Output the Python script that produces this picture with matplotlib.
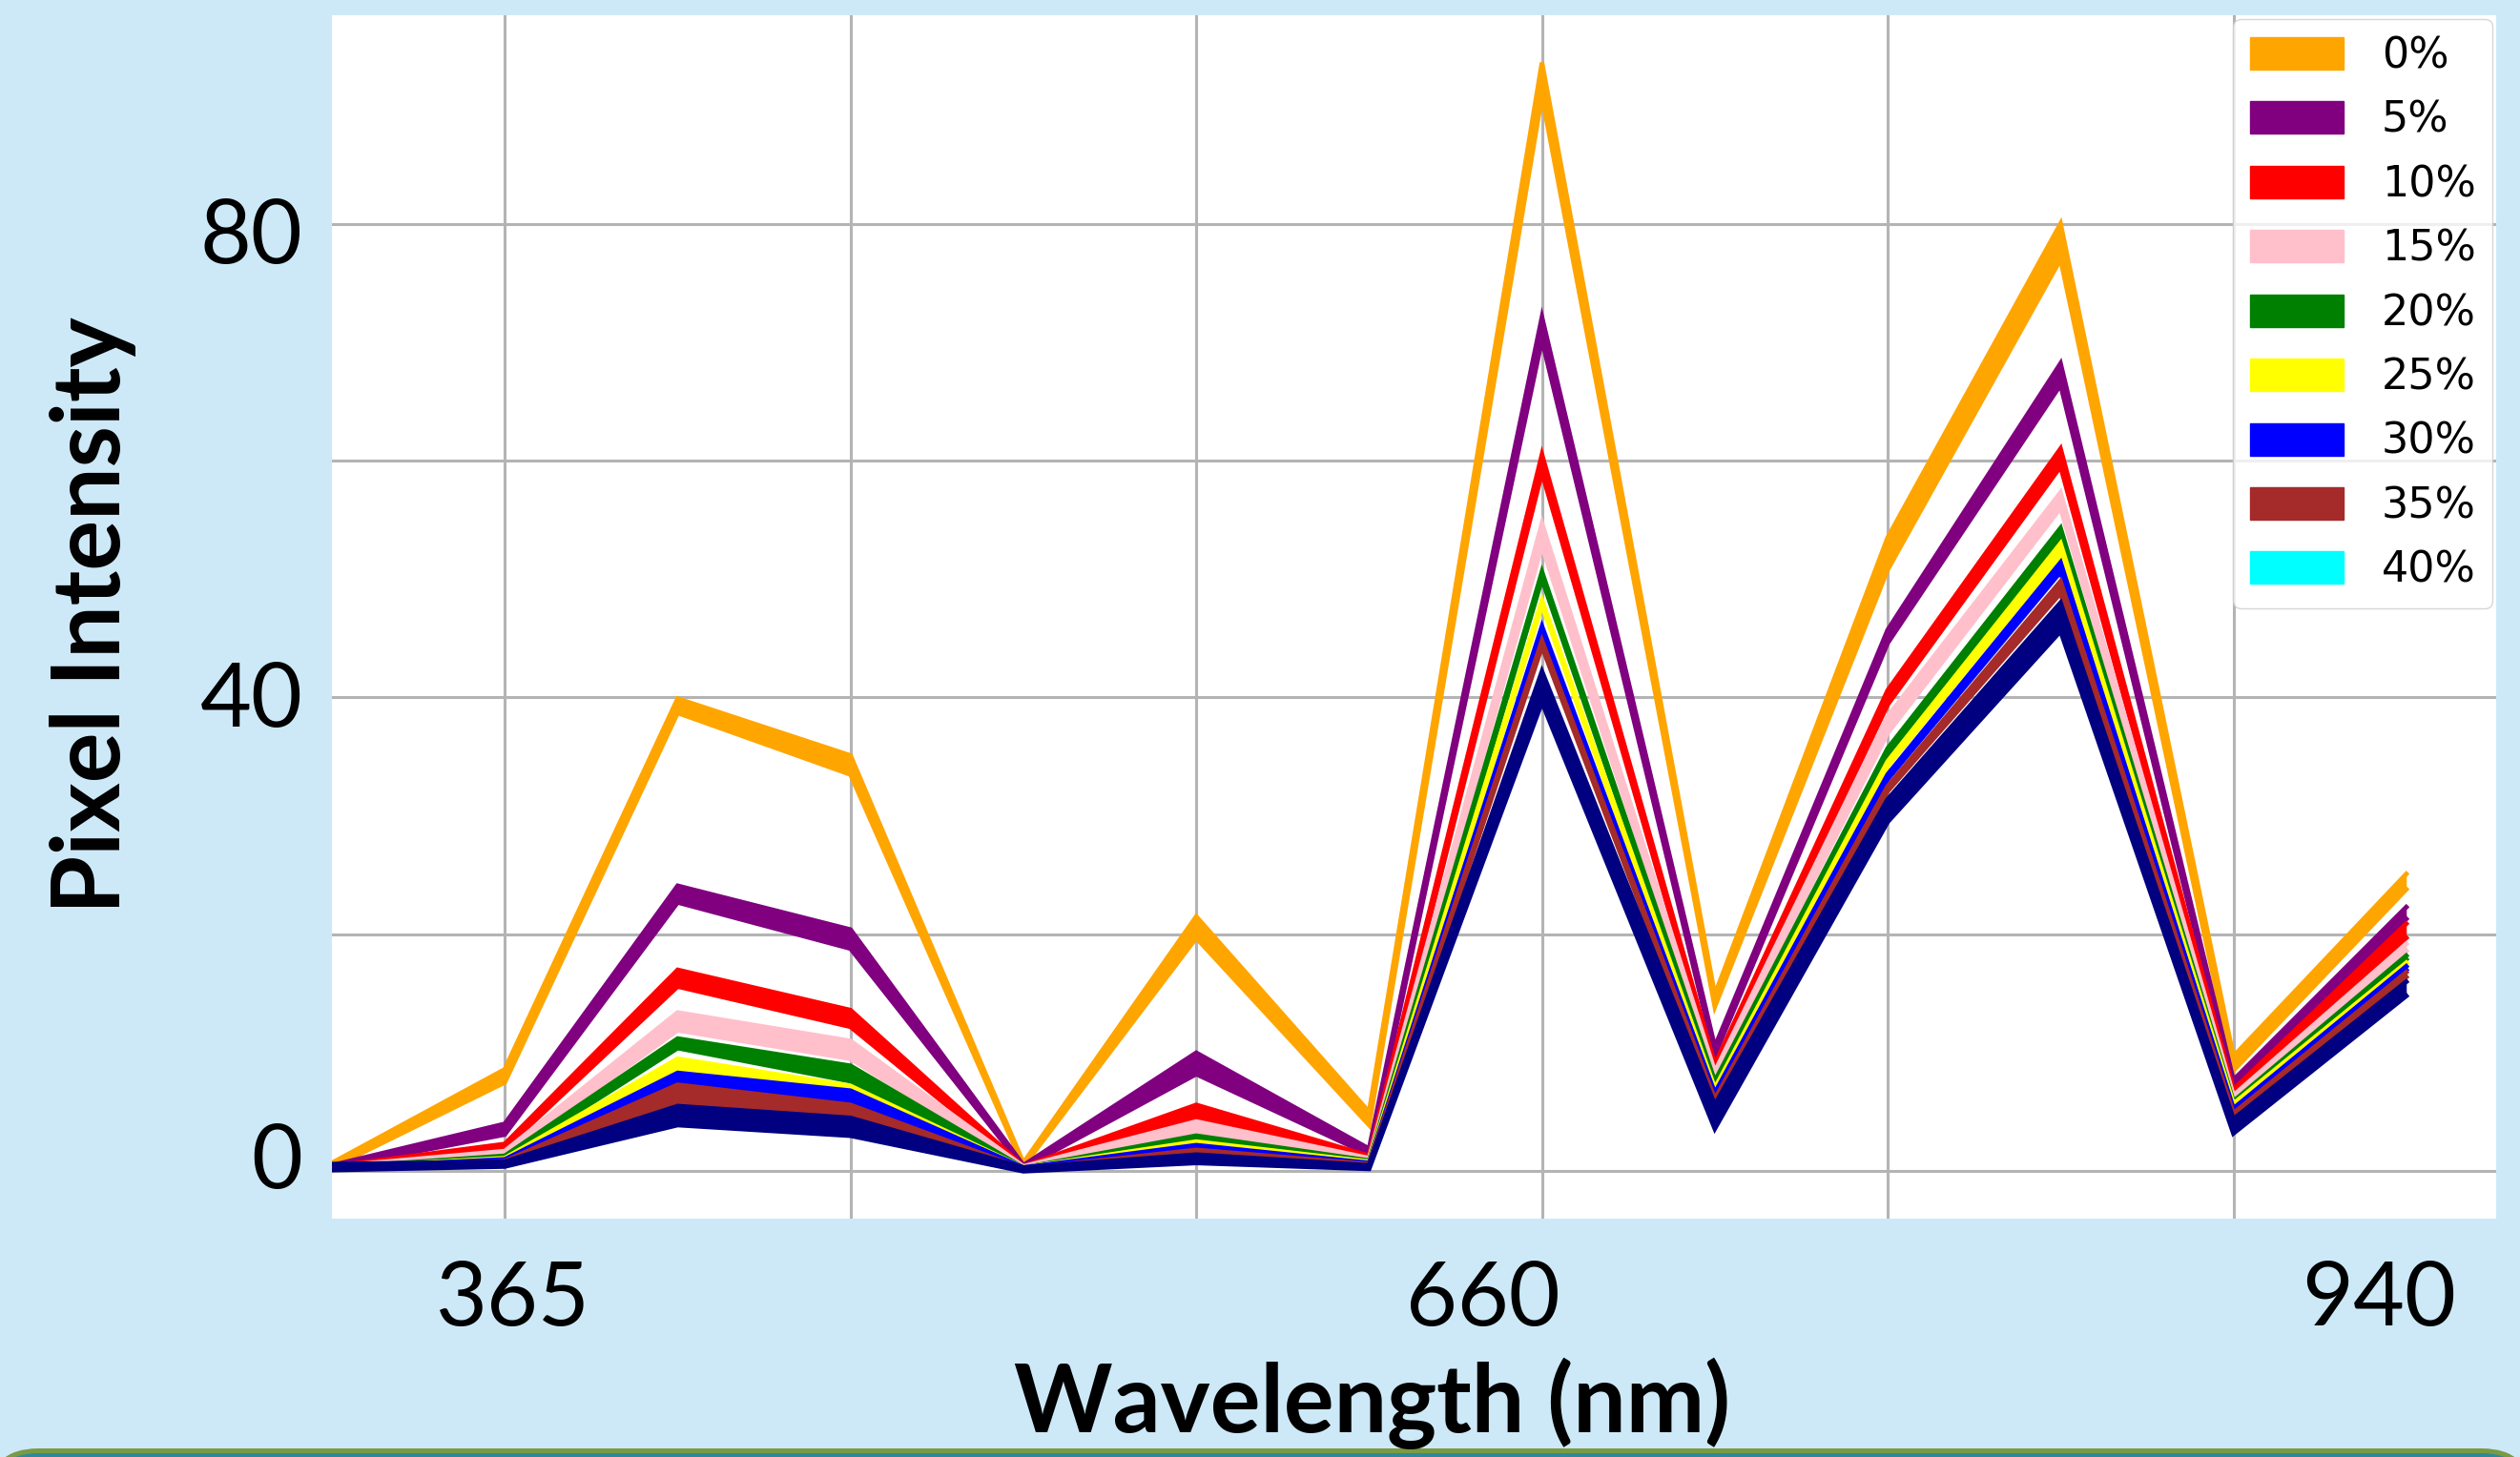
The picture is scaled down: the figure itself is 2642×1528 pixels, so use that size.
import matplotlib
matplotlib.use("Agg")
import matplotlib.pyplot as plt
import matplotlib.patches as mpatches

# ---------------- data ----------------
x_idx = list(range(13))                      # 13 measured channels
x_tick_pos = [1.04, 6.66, 11.84]
x_tick_labels = ["365", "660", "940"]
y_tick_pos = [1.3, 40.3, 79.4]
y_tick_labels = ["0", "40", "80"]
x_grid = [1, 3, 5, 7, 9, 11]
y_grid = [0, 20, 40, 60, 80]

conc_labels = ["0%", "5%", "10%", "15%", "20%", "25%", "30%", "35%", "40%"]
line_colors = ["orange", "purple", "red", "pink", "green", "yellow", "blue", "brown", "navy"]
legend_colors = ["orange", "purple", "red", "pink", "green", "yellow", "blue", "brown", "cyan"]

# lower / upper edge of each bundle of replicate spectra
c00_lo = [0.3, 7.5, 38.7, 33.5, 0.4, 19.7, 3.9, 90.8, 13.9, 50.8, 77.0, 8.5, 23.8]
c00_hi = [0.7, 8.6, 39.9, 35.1, 0.7, 21.5, 5.0, 93.6, 14.9, 53.5, 80.0, 9.7, 25.1]
c05_lo = [0.3, 3.1, 22.7, 18.8, 0.3, 8.2, 1.4, 70.2, 9.8, 44.6, 66.4, 7.1, 21.3]
c05_hi = [0.5, 4.0, 24.1, 20.4, 0.5, 10.0, 1.9, 72.1, 10.5, 45.7, 68.2, 7.7, 22.3]
c10_lo = [0.3, 1.9, 15.6, 12.2, 0.3, 4.5, 1.0, 59.0, 8.6, 39.4, 59.5, 6.5, 19.7]
c10_hi = [0.4, 2.3, 17.0, 13.6, 0.4, 5.6, 1.3, 60.5, 9.0, 40.6, 61.0, 6.9, 20.9]
c15_lo = [0.3, 1.4, 11.9, 9.5, 0.3, 3.2, 0.9, 52.8, 8.0, 37.0, 56.0, 6.1, 18.6]
c15_hi = [0.4, 1.7, 13.4, 11.0, 0.4, 4.2, 1.1, 54.7, 8.4, 38.4, 57.3, 6.4, 19.2]
c20_lo = [0.3, 1.1, 10.4, 7.6, 0.3, 2.6, 0.7, 50.0, 7.3, 35.2, 53.5, 5.7, 17.9]
c20_hi = [0.3, 1.3, 11.2, 8.9, 0.3, 3.0, 0.9, 50.6, 7.6, 35.7, 54.3, 5.9, 18.2]
c25_lo = [0.3, 0.95, 8.6, 6.9, 0.3, 2.3, 0.6, 47.8, 6.8, 34.2, 52.0, 5.5, 17.4]
c25_hi = [0.3, 1.1, 9.5, 7.2, 0.3, 2.5, 0.8, 48.2, 7.0, 34.6, 53.0, 5.7, 17.6]
c30_lo = [0.2, 0.85, 7.5, 5.8, 0.3, 1.9, 0.5, 45.6, 6.4, 33.1, 50.6, 5.0, 17.0]
c30_hi = [0.3, 1.0, 8.3, 6.8, 0.3, 2.2, 0.7, 46.0, 6.6, 33.5, 51.4, 5.3, 17.3]
c35_lo = [0.2, 0.7, 5.8, 4.7, 0.2, 1.5, 0.4, 44.3, 5.8, 32.1, 48.8, 4.6, 16.4]
c35_hi = [0.3, 0.85, 7.3, 5.6, 0.2, 1.8, 0.6, 44.8, 6.1, 32.5, 49.8, 4.9, 16.8]
c40_lo = [0.1, 0.4, 3.9, 3.0, 0.0, 0.7, 0.2, 39.6, 3.6, 29.5, 45.6, 3.2, 14.8]
c40_hi = [0.6, 0.8, 5.5, 4.5, 0.3, 1.4, 0.5, 42.2, 5.6, 31.4, 48.0, 4.4, 16.0]

bundles_lo = [c00_lo, c05_lo, c10_lo, c15_lo, c20_lo, c25_lo, c30_lo, c35_lo, c40_lo]
bundles_hi = [c00_hi, c05_hi, c10_hi, c15_hi, c20_hi, c25_hi, c30_hi, c35_hi, c40_hi]

# ---------------- figure ----------------
W, H = 2642, 1528
fig = plt.figure(figsize=(W / 100, H / 100), dpi=100, facecolor="#CDE9F8")
ax = fig.add_axes([348 / W, 1 - 1278 / H, (2617 - 348) / W, (1278 - 16) / H])
ax.set_facecolor("white")
for s in ax.spines.values():
    s.set_visible(False)

for i, (lo, hi, c) in enumerate(zip(bundles_lo, bundles_hi, line_colors)):
    z = 2 + i * 0.1
    ax.fill_between(x_idx, lo, hi, color=c, lw=0, zorder=z)
    ax.plot(x_idx, lo, color=c, lw=3.5, solid_joinstyle="miter", zorder=z)
    ax.plot(x_idx, hi, color=c, lw=3.5, solid_joinstyle="miter", zorder=z)

ax.set_xlim(0, 12.52)
ax.set_ylim(-4.0, 97.6)

ax.set_xticks(x_grid, minor=True)
ax.set_yticks(y_grid, minor=True)
ax.grid(which="minor", color="#b4b4b4", lw=2.2, zorder=0)
ax.grid(which="major", visible=False)
ax.set_axisbelow(True)

ax.set_xticks(x_tick_pos)
ax.set_xticklabels(x_tick_labels, fontfamily="Lato", fontsize=67)
ax.set_yticks(y_tick_pos)
ax.set_yticklabels(y_tick_labels, fontfamily="Lato", fontsize=67)
ax.tick_params(axis="both", which="both", length=0)
ax.tick_params(axis="x", which="major", pad=31.5)
ax.tick_params(axis="y", which="major", pad=22)

fig.text(1439 / W, 1 - 1502 / H, "Wavelength (nm)", ha="center", va="baseline",
         fontfamily="Lato", fontweight="bold", fontsize=71)
fig.text(143 / W, 1 - 645 / H, "Pixel Intensity", rotation=90, ha="right", va="center",
         fontfamily="Lato", fontweight="bold", fontsize=71)

handles = [mpatches.Patch(color=c, label=l) for c, l in zip(legend_colors, conc_labels)]
ax.legend(handles=handles, loc="upper right", prop={"family": "DejaVu Sans", "size": 32},
          handlelength=2.2, handleheight=0.8, borderaxespad=0.08, labelspacing=0.55,
          handletextpad=0.9)

# slide border at the bottom
fig.add_artist(mpatches.FancyBboxPatch((-0.1, -1.0), W / 100 + 0.2, 1.065,
                                       boxstyle="round,pad=0,rounding_size=0.5",
                                       transform=fig.dpi_scale_trans,
                                       facecolor="#2E8A9A", edgecolor="#7A9A44", lw=3.6))

fig.savefig("out.png", dpi=100, facecolor=fig.get_facecolor())
